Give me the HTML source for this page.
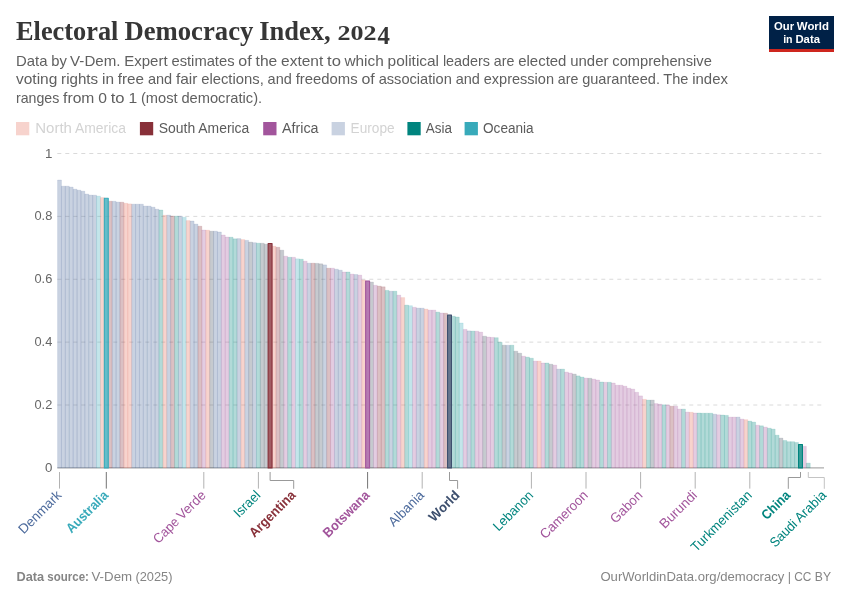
<!DOCTYPE html>
<html lang="en"><head><meta charset="utf-8"><title>Electoral Democracy Index, 2024</title>
<style>html,body{margin:0;padding:0;background:#fff}svg{display:block}</style></head><body>
<svg width="850" height="600" viewBox="0 0 850 600">
<rect width="850" height="600" fill="#fff"/>
<text y="40.1" font-family="'Liberation Serif', serif" font-size="26.7" font-weight="700" fill="#363636"><tspan x="16.00" textLength="102.45" lengthAdjust="spacingAndGlyphs">Electoral</tspan> <tspan x="124.41" textLength="128.94" lengthAdjust="spacingAndGlyphs">Democracy</tspan> <tspan x="259.30" textLength="71.33" lengthAdjust="spacingAndGlyphs">Index,</tspan> <tspan x="337.4" font-size="20.2" textLength="39.1" lengthAdjust="spacingAndGlyphs">202</tspan><tspan x="377.6" y="43.5" font-size="24.2" textLength="12.4" lengthAdjust="spacingAndGlyphs">4</tspan></text>
<text y="66.2" font-family="'Liberation Sans', sans-serif" font-size="15" fill="#606060"><tspan x="16.00" textLength="31.41" lengthAdjust="spacingAndGlyphs">Data</tspan> <tspan x="51.23" textLength="15.58" lengthAdjust="spacingAndGlyphs">by</tspan> <tspan x="70.11" textLength="50.38" lengthAdjust="spacingAndGlyphs">V-Dem.</tspan> <tspan x="124.31" textLength="43.31" lengthAdjust="spacingAndGlyphs">Expert</tspan> <tspan x="171.44" textLength="63.12" lengthAdjust="spacingAndGlyphs">estimates</tspan> <tspan x="238.39" textLength="13.33" lengthAdjust="spacingAndGlyphs">of</tspan> <tspan x="255.55" textLength="21.69" lengthAdjust="spacingAndGlyphs">the</tspan> <tspan x="281.06" textLength="42.20" lengthAdjust="spacingAndGlyphs">extent</tspan> <tspan x="327.09" textLength="13.86" lengthAdjust="spacingAndGlyphs">to</tspan> <tspan x="344.47" textLength="39.30" lengthAdjust="spacingAndGlyphs">which</tspan> <tspan x="387.59" textLength="51.47" lengthAdjust="spacingAndGlyphs">political</tspan> <tspan x="442.88" textLength="47.17" lengthAdjust="spacingAndGlyphs">leaders</tspan> <tspan x="493.86" textLength="20.55" lengthAdjust="spacingAndGlyphs">are</tspan> <tspan x="518.23" textLength="48.22" lengthAdjust="spacingAndGlyphs">elected</tspan> <tspan x="570.28" textLength="38.20" lengthAdjust="spacingAndGlyphs">under</tspan> <tspan x="612.31" textLength="99.56" lengthAdjust="spacingAndGlyphs">comprehensive</tspan></text>
<text y="84.4" font-family="'Liberation Sans', sans-serif" font-size="15" fill="#606060"><tspan x="16.00" textLength="41.31" lengthAdjust="spacingAndGlyphs">voting</tspan> <tspan x="61.14" textLength="37.02" lengthAdjust="spacingAndGlyphs">rights</tspan> <tspan x="101.98" textLength="11.98" lengthAdjust="spacingAndGlyphs">in</tspan> <tspan x="117.78" textLength="26.27" lengthAdjust="spacingAndGlyphs">free</tspan> <tspan x="147.88" textLength="24.25" lengthAdjust="spacingAndGlyphs">and</tspan> <tspan x="175.94" textLength="21.44" lengthAdjust="spacingAndGlyphs">fair</tspan> <tspan x="201.20" textLength="62.56" lengthAdjust="spacingAndGlyphs">elections,</tspan> <tspan x="267.59" textLength="24.23" lengthAdjust="spacingAndGlyphs">and</tspan> <tspan x="295.66" textLength="62.00" lengthAdjust="spacingAndGlyphs">freedoms</tspan> <tspan x="361.48" textLength="13.33" lengthAdjust="spacingAndGlyphs">of</tspan> <tspan x="378.64" textLength="73.20" lengthAdjust="spacingAndGlyphs">association</tspan> <tspan x="455.67" textLength="24.23" lengthAdjust="spacingAndGlyphs">and</tspan> <tspan x="483.73" textLength="70.25" lengthAdjust="spacingAndGlyphs">expression</tspan> <tspan x="557.81" textLength="20.55" lengthAdjust="spacingAndGlyphs">are</tspan> <tspan x="582.17" textLength="77.81" lengthAdjust="spacingAndGlyphs">guaranteed.</tspan> <tspan x="663.36" textLength="25.05" lengthAdjust="spacingAndGlyphs">The</tspan> <tspan x="692.22" textLength="35.69" lengthAdjust="spacingAndGlyphs">index</tspan></text>
<text y="102.6" font-family="'Liberation Sans', sans-serif" font-size="15" fill="#606060"><tspan x="16.00" textLength="43.27" lengthAdjust="spacingAndGlyphs">ranges</tspan> <tspan x="63.09" textLength="31.27" lengthAdjust="spacingAndGlyphs">from</tspan> <tspan x="98.19" textLength="8.72" lengthAdjust="spacingAndGlyphs">0</tspan> <tspan x="110.72" textLength="13.86" lengthAdjust="spacingAndGlyphs">to</tspan> <tspan x="128.41" textLength="8.72" lengthAdjust="spacingAndGlyphs">1</tspan> <tspan x="140.95" textLength="36.61" lengthAdjust="spacingAndGlyphs">(most</tspan> <tspan x="181.39" textLength="80.73" lengthAdjust="spacingAndGlyphs">democratic).</tspan></text>
<rect x="769" y="16" width="65" height="36" fill="#002147"/><rect x="769" y="49" width="65" height="3" fill="#ce261e"/>
<text y="30.2" font-family="'Liberation Sans', sans-serif" font-size="11" font-weight="700" fill="#fff"><tspan x="774.05" textLength="20.04" lengthAdjust="spacingAndGlyphs">Our</tspan> <tspan x="796.82" textLength="32.13" lengthAdjust="spacingAndGlyphs">World</tspan></text>
<text y="42.8" font-family="'Liberation Sans', sans-serif" font-size="11" font-weight="700" fill="#fff"><tspan x="783.18" textLength="9.45" lengthAdjust="spacingAndGlyphs">in</tspan> <tspan x="795.41" textLength="24.61" lengthAdjust="spacingAndGlyphs">Data</tspan></text>
<rect x="16" y="122" width="13.3" height="13.3" fill="#e56e5a" opacity="0.3"/>
<text y="132.9" font-family="'Liberation Sans', sans-serif" font-size="14" fill="#d3d3d3"><tspan x="35.20" textLength="36.71" lengthAdjust="spacingAndGlyphs">North</tspan> <tspan x="75.03" textLength="50.99" lengthAdjust="spacingAndGlyphs">America</tspan></text>
<rect x="139.9" y="122" width="13.3" height="13.3" fill="#883039"/>
<text y="132.9" font-family="'Liberation Sans', sans-serif" font-size="14" fill="#5b5b5b"><tspan x="158.70" textLength="36.50" lengthAdjust="spacingAndGlyphs">South</tspan> <tspan x="198.33" textLength="50.97" lengthAdjust="spacingAndGlyphs">America</tspan></text>
<rect x="263.2" y="122" width="13.3" height="13.3" fill="#a2559c"/>
<text x="282.00" y="132.9" font-family="'Liberation Sans', sans-serif" font-size="14" fill="#5b5b5b" textLength="36.55" lengthAdjust="spacingAndGlyphs">Africa</text>
<rect x="331.6" y="122" width="13.3" height="13.3" fill="#4c6a9c" opacity="0.3"/>
<text x="350.60" y="132.9" font-family="'Liberation Sans', sans-serif" font-size="14" fill="#d3d3d3" textLength="44.01" lengthAdjust="spacingAndGlyphs">Europe</text>
<rect x="407.4" y="122" width="13.3" height="13.3" fill="#00847e"/>
<text x="425.80" y="132.9" font-family="'Liberation Sans', sans-serif" font-size="14" fill="#5b5b5b" textLength="26.12" lengthAdjust="spacingAndGlyphs">Asia</text>
<rect x="464.6" y="122" width="13.3" height="13.3" fill="#38aaba"/>
<text x="483.00" y="132.9" font-family="'Liberation Sans', sans-serif" font-size="14" fill="#5b5b5b" textLength="50.66" lengthAdjust="spacingAndGlyphs">Oceania</text>
<line x1="57.3" x2="823.8" y1="153.50" y2="153.50" stroke="#dadada" stroke-width="1" stroke-dasharray="4,4"/>
<text x="44.90" y="157.6" font-family="'Liberation Sans', sans-serif" font-size="13" fill="#666" textLength="7.40" lengthAdjust="spacingAndGlyphs">1</text>
<line x1="57.3" x2="823.8" y1="216.38" y2="216.38" stroke="#dadada" stroke-width="1" stroke-dasharray="4,4"/>
<text x="34.51" y="220.47" font-family="'Liberation Sans', sans-serif" font-size="13" fill="#666" textLength="17.79" lengthAdjust="spacingAndGlyphs">0.8</text>
<line x1="57.3" x2="823.8" y1="279.25" y2="279.25" stroke="#dadada" stroke-width="1" stroke-dasharray="4,4"/>
<text x="34.51" y="283.35" font-family="'Liberation Sans', sans-serif" font-size="13" fill="#666" textLength="17.79" lengthAdjust="spacingAndGlyphs">0.6</text>
<line x1="57.3" x2="823.8" y1="342.12" y2="342.12" stroke="#dadada" stroke-width="1" stroke-dasharray="4,4"/>
<text x="34.51" y="346.23" font-family="'Liberation Sans', sans-serif" font-size="13" fill="#666" textLength="17.79" lengthAdjust="spacingAndGlyphs">0.4</text>
<line x1="57.3" x2="823.8" y1="405.00" y2="405.00" stroke="#dadada" stroke-width="1" stroke-dasharray="4,4"/>
<text x="34.51" y="409.1" font-family="'Liberation Sans', sans-serif" font-size="13" fill="#666" textLength="17.79" lengthAdjust="spacingAndGlyphs">0.2</text>
<text x="44.90" y="471.98" font-family="'Liberation Sans', sans-serif" font-size="13" fill="#666" textLength="7.40" lengthAdjust="spacingAndGlyphs">0</text>
<line x1="57.3" x2="824" y1="467.85" y2="467.85" stroke="#adadad" stroke-width="1.4"/>
<g stroke-linejoin="round">
<rect x="57.55" y="180.0" width="3.9" height="287.9" fill="#4c6a9c" fill-opacity="0.3" stroke="#4c6a9c" stroke-opacity="0.2" stroke-width="0.6"/>
<rect x="61.45" y="186.2" width="3.9" height="281.7" fill="#4c6a9c" fill-opacity="0.3" stroke="#4c6a9c" stroke-opacity="0.2" stroke-width="0.6"/>
<rect x="65.35" y="186.2" width="3.9" height="281.7" fill="#4c6a9c" fill-opacity="0.3" stroke="#4c6a9c" stroke-opacity="0.2" stroke-width="0.6"/>
<rect x="69.25" y="187.1" width="3.9" height="280.8" fill="#4c6a9c" fill-opacity="0.3" stroke="#4c6a9c" stroke-opacity="0.2" stroke-width="0.6"/>
<rect x="73.15" y="189.2" width="3.9" height="278.7" fill="#4c6a9c" fill-opacity="0.3" stroke="#4c6a9c" stroke-opacity="0.2" stroke-width="0.6"/>
<rect x="77.05" y="190.2" width="3.9" height="277.7" fill="#4c6a9c" fill-opacity="0.3" stroke="#4c6a9c" stroke-opacity="0.2" stroke-width="0.6"/>
<rect x="80.95" y="191.2" width="3.9" height="276.7" fill="#4c6a9c" fill-opacity="0.3" stroke="#4c6a9c" stroke-opacity="0.2" stroke-width="0.6"/>
<rect x="84.85" y="194.1" width="3.9" height="273.8" fill="#4c6a9c" fill-opacity="0.3" stroke="#4c6a9c" stroke-opacity="0.2" stroke-width="0.6"/>
<rect x="88.75" y="195.1" width="3.9" height="272.8" fill="#4c6a9c" fill-opacity="0.3" stroke="#4c6a9c" stroke-opacity="0.2" stroke-width="0.6"/>
<rect x="92.65" y="195.2" width="3.9" height="272.7" fill="#4c6a9c" fill-opacity="0.3" stroke="#4c6a9c" stroke-opacity="0.2" stroke-width="0.6"/>
<rect x="96.55" y="196.1" width="3.9" height="271.8" fill="#38aaba" fill-opacity="0.3" stroke="#38aaba" stroke-opacity="0.2" stroke-width="0.6"/>
<rect x="100.45" y="197.6" width="3.9" height="270.2" fill="#e56e5a" fill-opacity="0.3" stroke="#e56e5a" stroke-opacity="0.2" stroke-width="0.6"/>
<rect x="108.25" y="201.2" width="3.9" height="266.7" fill="#883039" fill-opacity="0.3" stroke="#883039" stroke-opacity="0.2" stroke-width="0.6"/>
<rect x="112.15" y="201.3" width="3.9" height="266.6" fill="#4c6a9c" fill-opacity="0.3" stroke="#4c6a9c" stroke-opacity="0.2" stroke-width="0.6"/>
<rect x="116.05" y="202.1" width="3.9" height="265.8" fill="#4c6a9c" fill-opacity="0.3" stroke="#4c6a9c" stroke-opacity="0.2" stroke-width="0.6"/>
<rect x="119.95" y="202.2" width="3.9" height="265.7" fill="#883039" fill-opacity="0.3" stroke="#883039" stroke-opacity="0.2" stroke-width="0.6"/>
<rect x="123.85" y="203.3" width="3.9" height="264.6" fill="#e56e5a" fill-opacity="0.3" stroke="#e56e5a" stroke-opacity="0.2" stroke-width="0.6"/>
<rect x="127.75" y="203.9" width="3.9" height="264.0" fill="#e56e5a" fill-opacity="0.3" stroke="#e56e5a" stroke-opacity="0.2" stroke-width="0.6"/>
<rect x="131.65" y="204.2" width="3.9" height="263.7" fill="#4c6a9c" fill-opacity="0.3" stroke="#4c6a9c" stroke-opacity="0.2" stroke-width="0.6"/>
<rect x="135.55" y="204.2" width="3.9" height="263.7" fill="#4c6a9c" fill-opacity="0.3" stroke="#4c6a9c" stroke-opacity="0.2" stroke-width="0.6"/>
<rect x="139.45" y="204.2" width="3.9" height="263.7" fill="#4c6a9c" fill-opacity="0.3" stroke="#4c6a9c" stroke-opacity="0.2" stroke-width="0.6"/>
<rect x="143.35" y="206.1" width="3.9" height="261.8" fill="#4c6a9c" fill-opacity="0.3" stroke="#4c6a9c" stroke-opacity="0.2" stroke-width="0.6"/>
<rect x="147.25" y="206.1" width="3.9" height="261.8" fill="#4c6a9c" fill-opacity="0.3" stroke="#4c6a9c" stroke-opacity="0.2" stroke-width="0.6"/>
<rect x="151.15" y="207.2" width="3.9" height="260.7" fill="#4c6a9c" fill-opacity="0.3" stroke="#4c6a9c" stroke-opacity="0.2" stroke-width="0.6"/>
<rect x="155.05" y="209.2" width="3.9" height="258.7" fill="#4c6a9c" fill-opacity="0.3" stroke="#4c6a9c" stroke-opacity="0.2" stroke-width="0.6"/>
<rect x="158.95" y="210.0" width="3.9" height="257.9" fill="#00847e" fill-opacity="0.3" stroke="#00847e" stroke-opacity="0.2" stroke-width="0.6"/>
<rect x="162.85" y="215.3" width="3.9" height="252.6" fill="#e56e5a" fill-opacity="0.3" stroke="#e56e5a" stroke-opacity="0.2" stroke-width="0.6"/>
<rect x="166.75" y="215.1" width="3.9" height="252.8" fill="#4c6a9c" fill-opacity="0.3" stroke="#4c6a9c" stroke-opacity="0.2" stroke-width="0.6"/>
<rect x="170.65" y="216.0" width="3.9" height="251.9" fill="#883039" fill-opacity="0.3" stroke="#883039" stroke-opacity="0.2" stroke-width="0.6"/>
<rect x="174.55" y="216.1" width="3.9" height="251.8" fill="#00847e" fill-opacity="0.3" stroke="#00847e" stroke-opacity="0.2" stroke-width="0.6"/>
<rect x="178.45" y="216.1" width="3.9" height="251.8" fill="#4c6a9c" fill-opacity="0.3" stroke="#4c6a9c" stroke-opacity="0.2" stroke-width="0.6"/>
<rect x="182.35" y="217.3" width="3.9" height="250.6" fill="#38aaba" fill-opacity="0.3" stroke="#38aaba" stroke-opacity="0.2" stroke-width="0.6"/>
<rect x="186.25" y="220.6" width="3.9" height="247.3" fill="#e56e5a" fill-opacity="0.3" stroke="#e56e5a" stroke-opacity="0.2" stroke-width="0.6"/>
<rect x="190.15" y="221.0" width="3.9" height="246.9" fill="#4c6a9c" fill-opacity="0.3" stroke="#4c6a9c" stroke-opacity="0.2" stroke-width="0.6"/>
<rect x="194.05" y="224.1" width="3.9" height="243.8" fill="#4c6a9c" fill-opacity="0.3" stroke="#4c6a9c" stroke-opacity="0.2" stroke-width="0.6"/>
<rect x="197.95" y="226.2" width="3.9" height="241.7" fill="#883039" fill-opacity="0.3" stroke="#883039" stroke-opacity="0.2" stroke-width="0.6"/>
<rect x="201.85" y="230.0" width="3.9" height="237.9" fill="#a2559c" fill-opacity="0.3" stroke="#a2559c" stroke-opacity="0.2" stroke-width="0.6"/>
<rect x="205.75" y="230.2" width="3.9" height="237.7" fill="#e56e5a" fill-opacity="0.3" stroke="#e56e5a" stroke-opacity="0.2" stroke-width="0.6"/>
<rect x="209.65" y="231.2" width="3.9" height="236.7" fill="#434e60" fill-opacity="0.3" stroke="#434e60" stroke-opacity="0.2" stroke-width="0.6"/>
<rect x="213.55" y="231.2" width="3.9" height="236.7" fill="#4c6a9c" fill-opacity="0.3" stroke="#4c6a9c" stroke-opacity="0.2" stroke-width="0.6"/>
<rect x="217.45" y="232.0" width="3.9" height="235.9" fill="#4c6a9c" fill-opacity="0.3" stroke="#4c6a9c" stroke-opacity="0.2" stroke-width="0.6"/>
<rect x="221.35" y="235.0" width="3.9" height="232.9" fill="#a2559c" fill-opacity="0.3" stroke="#a2559c" stroke-opacity="0.2" stroke-width="0.6"/>
<rect x="225.25" y="237.0" width="3.9" height="230.9" fill="#a2559c" fill-opacity="0.3" stroke="#a2559c" stroke-opacity="0.2" stroke-width="0.6"/>
<rect x="229.15" y="237.2" width="3.9" height="230.7" fill="#00847e" fill-opacity="0.3" stroke="#00847e" stroke-opacity="0.2" stroke-width="0.6"/>
<rect x="233.05" y="238.8" width="3.9" height="229.1" fill="#00847e" fill-opacity="0.3" stroke="#00847e" stroke-opacity="0.2" stroke-width="0.6"/>
<rect x="236.95" y="238.6" width="3.9" height="229.3" fill="#4c6a9c" fill-opacity="0.3" stroke="#4c6a9c" stroke-opacity="0.2" stroke-width="0.6"/>
<rect x="240.85" y="239.6" width="3.9" height="228.3" fill="#e56e5a" fill-opacity="0.3" stroke="#e56e5a" stroke-opacity="0.2" stroke-width="0.6"/>
<rect x="244.75" y="240.4" width="3.9" height="227.5" fill="#4c6a9c" fill-opacity="0.3" stroke="#4c6a9c" stroke-opacity="0.2" stroke-width="0.6"/>
<rect x="248.65" y="242.1" width="3.9" height="225.8" fill="#434e60" fill-opacity="0.3" stroke="#434e60" stroke-opacity="0.2" stroke-width="0.6"/>
<rect x="252.55" y="242.7" width="3.9" height="225.2" fill="#4c6a9c" fill-opacity="0.3" stroke="#4c6a9c" stroke-opacity="0.2" stroke-width="0.6"/>
<rect x="256.45" y="243.2" width="3.9" height="224.7" fill="#00847e" fill-opacity="0.3" stroke="#00847e" stroke-opacity="0.2" stroke-width="0.6"/>
<rect x="260.35" y="243.3" width="3.9" height="224.6" fill="#434e60" fill-opacity="0.3" stroke="#434e60" stroke-opacity="0.2" stroke-width="0.6"/>
<rect x="264.25" y="244.2" width="3.9" height="223.7" fill="#434e60" fill-opacity="0.3" stroke="#434e60" stroke-opacity="0.2" stroke-width="0.6"/>
<rect x="272.05" y="246.2" width="3.9" height="221.7" fill="#e56e5a" fill-opacity="0.3" stroke="#e56e5a" stroke-opacity="0.2" stroke-width="0.6"/>
<rect x="275.95" y="247.3" width="3.9" height="220.6" fill="#883039" fill-opacity="0.3" stroke="#883039" stroke-opacity="0.2" stroke-width="0.6"/>
<rect x="279.85" y="250.2" width="3.9" height="217.7" fill="#434e60" fill-opacity="0.3" stroke="#434e60" stroke-opacity="0.2" stroke-width="0.6"/>
<rect x="283.75" y="256.2" width="3.9" height="211.7" fill="#a2559c" fill-opacity="0.3" stroke="#a2559c" stroke-opacity="0.2" stroke-width="0.6"/>
<rect x="287.65" y="257.3" width="3.9" height="210.6" fill="#00847e" fill-opacity="0.3" stroke="#00847e" stroke-opacity="0.2" stroke-width="0.6"/>
<rect x="291.55" y="257.3" width="3.9" height="210.6" fill="#a2559c" fill-opacity="0.3" stroke="#a2559c" stroke-opacity="0.2" stroke-width="0.6"/>
<rect x="295.45" y="258.8" width="3.9" height="209.1" fill="#38aaba" fill-opacity="0.3" stroke="#38aaba" stroke-opacity="0.2" stroke-width="0.6"/>
<rect x="299.35" y="259.2" width="3.9" height="208.7" fill="#00847e" fill-opacity="0.3" stroke="#00847e" stroke-opacity="0.2" stroke-width="0.6"/>
<rect x="303.25" y="261.2" width="3.9" height="206.7" fill="#a2559c" fill-opacity="0.3" stroke="#a2559c" stroke-opacity="0.2" stroke-width="0.6"/>
<rect x="307.15" y="263.2" width="3.9" height="204.7" fill="#4c6a9c" fill-opacity="0.3" stroke="#4c6a9c" stroke-opacity="0.2" stroke-width="0.6"/>
<rect x="311.05" y="263.2" width="3.9" height="204.7" fill="#883039" fill-opacity="0.3" stroke="#883039" stroke-opacity="0.2" stroke-width="0.6"/>
<rect x="314.95" y="263.4" width="3.9" height="204.5" fill="#434e60" fill-opacity="0.3" stroke="#434e60" stroke-opacity="0.2" stroke-width="0.6"/>
<rect x="318.85" y="263.8" width="3.9" height="204.1" fill="#434e60" fill-opacity="0.3" stroke="#434e60" stroke-opacity="0.2" stroke-width="0.6"/>
<rect x="322.75" y="264.9" width="3.9" height="203.0" fill="#4c6a9c" fill-opacity="0.3" stroke="#4c6a9c" stroke-opacity="0.2" stroke-width="0.6"/>
<rect x="326.65" y="268.2" width="3.9" height="199.7" fill="#883039" fill-opacity="0.3" stroke="#883039" stroke-opacity="0.2" stroke-width="0.6"/>
<rect x="330.55" y="268.2" width="3.9" height="199.7" fill="#a2559c" fill-opacity="0.3" stroke="#a2559c" stroke-opacity="0.2" stroke-width="0.6"/>
<rect x="334.45" y="269.2" width="3.9" height="198.7" fill="#4c6a9c" fill-opacity="0.3" stroke="#4c6a9c" stroke-opacity="0.2" stroke-width="0.6"/>
<rect x="338.35" y="270.2" width="3.9" height="197.7" fill="#4c6a9c" fill-opacity="0.3" stroke="#4c6a9c" stroke-opacity="0.2" stroke-width="0.6"/>
<rect x="342.25" y="272.0" width="3.9" height="195.9" fill="#a2559c" fill-opacity="0.3" stroke="#a2559c" stroke-opacity="0.2" stroke-width="0.6"/>
<rect x="346.15" y="272.0" width="3.9" height="195.9" fill="#00847e" fill-opacity="0.3" stroke="#00847e" stroke-opacity="0.2" stroke-width="0.6"/>
<rect x="350.05" y="274.1" width="3.9" height="193.8" fill="#a2559c" fill-opacity="0.3" stroke="#a2559c" stroke-opacity="0.2" stroke-width="0.6"/>
<rect x="353.95" y="274.5" width="3.9" height="193.4" fill="#4c6a9c" fill-opacity="0.3" stroke="#4c6a9c" stroke-opacity="0.2" stroke-width="0.6"/>
<rect x="357.85" y="275.1" width="3.9" height="192.8" fill="#a2559c" fill-opacity="0.3" stroke="#a2559c" stroke-opacity="0.2" stroke-width="0.6"/>
<rect x="361.75" y="280.0" width="3.9" height="187.9" fill="#e56e5a" fill-opacity="0.3" stroke="#e56e5a" stroke-opacity="0.2" stroke-width="0.6"/>
<rect x="369.55" y="282.1" width="3.9" height="185.8" fill="#434e60" fill-opacity="0.3" stroke="#434e60" stroke-opacity="0.2" stroke-width="0.6"/>
<rect x="373.45" y="285.3" width="3.9" height="182.6" fill="#a2559c" fill-opacity="0.3" stroke="#a2559c" stroke-opacity="0.2" stroke-width="0.6"/>
<rect x="377.35" y="286.1" width="3.9" height="181.8" fill="#883039" fill-opacity="0.3" stroke="#883039" stroke-opacity="0.2" stroke-width="0.6"/>
<rect x="381.25" y="286.8" width="3.9" height="181.1" fill="#883039" fill-opacity="0.3" stroke="#883039" stroke-opacity="0.2" stroke-width="0.6"/>
<rect x="385.15" y="290.4" width="3.9" height="177.5" fill="#00847e" fill-opacity="0.3" stroke="#00847e" stroke-opacity="0.2" stroke-width="0.6"/>
<rect x="389.05" y="291.2" width="3.9" height="176.7" fill="#4c6a9c" fill-opacity="0.3" stroke="#4c6a9c" stroke-opacity="0.2" stroke-width="0.6"/>
<rect x="392.95" y="291.2" width="3.9" height="176.7" fill="#00847e" fill-opacity="0.3" stroke="#00847e" stroke-opacity="0.2" stroke-width="0.6"/>
<rect x="396.85" y="295.1" width="3.9" height="172.8" fill="#a2559c" fill-opacity="0.3" stroke="#a2559c" stroke-opacity="0.2" stroke-width="0.6"/>
<rect x="400.75" y="297.6" width="3.9" height="170.2" fill="#e56e5a" fill-opacity="0.3" stroke="#e56e5a" stroke-opacity="0.2" stroke-width="0.6"/>
<rect x="404.65" y="305.1" width="3.9" height="162.8" fill="#00847e" fill-opacity="0.3" stroke="#00847e" stroke-opacity="0.2" stroke-width="0.6"/>
<rect x="408.55" y="305.7" width="3.9" height="162.2" fill="#38aaba" fill-opacity="0.3" stroke="#38aaba" stroke-opacity="0.2" stroke-width="0.6"/>
<rect x="412.45" y="307.3" width="3.9" height="160.6" fill="#a2559c" fill-opacity="0.3" stroke="#a2559c" stroke-opacity="0.2" stroke-width="0.6"/>
<rect x="416.35" y="308.1" width="3.9" height="159.8" fill="#4c6a9c" fill-opacity="0.3" stroke="#4c6a9c" stroke-opacity="0.2" stroke-width="0.6"/>
<rect x="420.25" y="308.2" width="3.9" height="159.7" fill="#4c6a9c" fill-opacity="0.3" stroke="#4c6a9c" stroke-opacity="0.2" stroke-width="0.6"/>
<rect x="424.15" y="309.1" width="3.9" height="158.8" fill="#e56e5a" fill-opacity="0.3" stroke="#e56e5a" stroke-opacity="0.2" stroke-width="0.6"/>
<rect x="428.05" y="310.1" width="3.9" height="157.8" fill="#a2559c" fill-opacity="0.3" stroke="#a2559c" stroke-opacity="0.2" stroke-width="0.6"/>
<rect x="431.95" y="310.1" width="3.9" height="157.8" fill="#a2559c" fill-opacity="0.3" stroke="#a2559c" stroke-opacity="0.2" stroke-width="0.6"/>
<rect x="435.85" y="312.1" width="3.9" height="155.8" fill="#00847e" fill-opacity="0.3" stroke="#00847e" stroke-opacity="0.2" stroke-width="0.6"/>
<rect x="439.75" y="313.0" width="3.9" height="154.9" fill="#a2559c" fill-opacity="0.3" stroke="#a2559c" stroke-opacity="0.2" stroke-width="0.6"/>
<rect x="443.65" y="313.2" width="3.9" height="154.7" fill="#883039" fill-opacity="0.3" stroke="#883039" stroke-opacity="0.2" stroke-width="0.6"/>
<rect x="451.45" y="316.2" width="3.9" height="151.7" fill="#00847e" fill-opacity="0.3" stroke="#00847e" stroke-opacity="0.2" stroke-width="0.6"/>
<rect x="455.35" y="317.0" width="3.9" height="150.9" fill="#00847e" fill-opacity="0.3" stroke="#00847e" stroke-opacity="0.2" stroke-width="0.6"/>
<rect x="459.25" y="323.0" width="3.9" height="144.9" fill="#38aaba" fill-opacity="0.3" stroke="#38aaba" stroke-opacity="0.2" stroke-width="0.6"/>
<rect x="463.15" y="329.4" width="3.9" height="138.5" fill="#a2559c" fill-opacity="0.3" stroke="#a2559c" stroke-opacity="0.2" stroke-width="0.6"/>
<rect x="467.05" y="330.9" width="3.9" height="137.0" fill="#4c6a9c" fill-opacity="0.3" stroke="#4c6a9c" stroke-opacity="0.2" stroke-width="0.6"/>
<rect x="470.95" y="331.1" width="3.9" height="136.8" fill="#00847e" fill-opacity="0.3" stroke="#00847e" stroke-opacity="0.2" stroke-width="0.6"/>
<rect x="474.85" y="331.2" width="3.9" height="136.7" fill="#a2559c" fill-opacity="0.3" stroke="#a2559c" stroke-opacity="0.2" stroke-width="0.6"/>
<rect x="478.75" y="332.1" width="3.9" height="135.8" fill="#a2559c" fill-opacity="0.3" stroke="#a2559c" stroke-opacity="0.2" stroke-width="0.6"/>
<rect x="482.65" y="336.2" width="3.9" height="131.7" fill="#434e60" fill-opacity="0.3" stroke="#434e60" stroke-opacity="0.2" stroke-width="0.6"/>
<rect x="486.55" y="337.0" width="3.9" height="130.9" fill="#a2559c" fill-opacity="0.3" stroke="#a2559c" stroke-opacity="0.2" stroke-width="0.6"/>
<rect x="490.45" y="337.4" width="3.9" height="130.5" fill="#a2559c" fill-opacity="0.3" stroke="#a2559c" stroke-opacity="0.2" stroke-width="0.6"/>
<rect x="494.35" y="337.7" width="3.9" height="130.2" fill="#00847e" fill-opacity="0.3" stroke="#00847e" stroke-opacity="0.2" stroke-width="0.6"/>
<rect x="498.25" y="342.3" width="3.9" height="125.6" fill="#00847e" fill-opacity="0.3" stroke="#00847e" stroke-opacity="0.2" stroke-width="0.6"/>
<rect x="502.15" y="345.2" width="3.9" height="122.7" fill="#434e60" fill-opacity="0.3" stroke="#434e60" stroke-opacity="0.2" stroke-width="0.6"/>
<rect x="506.05" y="345.3" width="3.9" height="122.6" fill="#4c6a9c" fill-opacity="0.3" stroke="#4c6a9c" stroke-opacity="0.2" stroke-width="0.6"/>
<rect x="509.95" y="345.2" width="3.9" height="122.7" fill="#00847e" fill-opacity="0.3" stroke="#00847e" stroke-opacity="0.2" stroke-width="0.6"/>
<rect x="513.85" y="351.2" width="3.9" height="116.7" fill="#434e60" fill-opacity="0.3" stroke="#434e60" stroke-opacity="0.2" stroke-width="0.6"/>
<rect x="517.75" y="353.2" width="3.9" height="114.7" fill="#434e60" fill-opacity="0.3" stroke="#434e60" stroke-opacity="0.2" stroke-width="0.6"/>
<rect x="521.65" y="356.2" width="3.9" height="111.7" fill="#a2559c" fill-opacity="0.3" stroke="#a2559c" stroke-opacity="0.2" stroke-width="0.6"/>
<rect x="525.55" y="357.1" width="3.9" height="110.8" fill="#00847e" fill-opacity="0.3" stroke="#00847e" stroke-opacity="0.2" stroke-width="0.6"/>
<rect x="529.45" y="358.2" width="3.9" height="109.7" fill="#00847e" fill-opacity="0.3" stroke="#00847e" stroke-opacity="0.2" stroke-width="0.6"/>
<rect x="533.35" y="361.1" width="3.9" height="106.8" fill="#a2559c" fill-opacity="0.3" stroke="#a2559c" stroke-opacity="0.2" stroke-width="0.6"/>
<rect x="537.25" y="361.1" width="3.9" height="106.8" fill="#e56e5a" fill-opacity="0.3" stroke="#e56e5a" stroke-opacity="0.2" stroke-width="0.6"/>
<rect x="541.15" y="363.0" width="3.9" height="104.9" fill="#a2559c" fill-opacity="0.3" stroke="#a2559c" stroke-opacity="0.2" stroke-width="0.6"/>
<rect x="545.05" y="363.0" width="3.9" height="104.9" fill="#00847e" fill-opacity="0.3" stroke="#00847e" stroke-opacity="0.2" stroke-width="0.6"/>
<rect x="548.95" y="364.2" width="3.9" height="103.7" fill="#434e60" fill-opacity="0.3" stroke="#434e60" stroke-opacity="0.2" stroke-width="0.6"/>
<rect x="552.85" y="365.1" width="3.9" height="102.8" fill="#a2559c" fill-opacity="0.3" stroke="#a2559c" stroke-opacity="0.2" stroke-width="0.6"/>
<rect x="556.75" y="369.1" width="3.9" height="98.8" fill="#4c6a9c" fill-opacity="0.3" stroke="#4c6a9c" stroke-opacity="0.2" stroke-width="0.6"/>
<rect x="560.65" y="369.1" width="3.9" height="98.8" fill="#00847e" fill-opacity="0.3" stroke="#00847e" stroke-opacity="0.2" stroke-width="0.6"/>
<rect x="564.55" y="372.1" width="3.9" height="95.8" fill="#a2559c" fill-opacity="0.3" stroke="#a2559c" stroke-opacity="0.2" stroke-width="0.6"/>
<rect x="568.45" y="373.0" width="3.9" height="94.9" fill="#a2559c" fill-opacity="0.3" stroke="#a2559c" stroke-opacity="0.2" stroke-width="0.6"/>
<rect x="572.35" y="374.1" width="3.9" height="93.8" fill="#434e60" fill-opacity="0.3" stroke="#434e60" stroke-opacity="0.2" stroke-width="0.6"/>
<rect x="576.25" y="375.9" width="3.9" height="92.0" fill="#00847e" fill-opacity="0.3" stroke="#00847e" stroke-opacity="0.2" stroke-width="0.6"/>
<rect x="580.15" y="377.1" width="3.9" height="90.8" fill="#00847e" fill-opacity="0.3" stroke="#00847e" stroke-opacity="0.2" stroke-width="0.6"/>
<rect x="584.05" y="378.1" width="3.9" height="89.8" fill="#a2559c" fill-opacity="0.3" stroke="#a2559c" stroke-opacity="0.2" stroke-width="0.6"/>
<rect x="587.95" y="378.3" width="3.9" height="89.6" fill="#434e60" fill-opacity="0.3" stroke="#434e60" stroke-opacity="0.2" stroke-width="0.6"/>
<rect x="591.85" y="379.1" width="3.9" height="88.8" fill="#a2559c" fill-opacity="0.3" stroke="#a2559c" stroke-opacity="0.2" stroke-width="0.6"/>
<rect x="595.75" y="380.0" width="3.9" height="87.9" fill="#a2559c" fill-opacity="0.3" stroke="#a2559c" stroke-opacity="0.2" stroke-width="0.6"/>
<rect x="599.65" y="382.0" width="3.9" height="85.9" fill="#00847e" fill-opacity="0.3" stroke="#00847e" stroke-opacity="0.2" stroke-width="0.6"/>
<rect x="603.55" y="382.3" width="3.9" height="85.6" fill="#a2559c" fill-opacity="0.3" stroke="#a2559c" stroke-opacity="0.2" stroke-width="0.6"/>
<rect x="607.45" y="382.3" width="3.9" height="85.6" fill="#00847e" fill-opacity="0.3" stroke="#00847e" stroke-opacity="0.2" stroke-width="0.6"/>
<rect x="611.35" y="383.0" width="3.9" height="84.9" fill="#a2559c" fill-opacity="0.3" stroke="#a2559c" stroke-opacity="0.2" stroke-width="0.6"/>
<rect x="615.25" y="385.2" width="3.9" height="82.7" fill="#a2559c" fill-opacity="0.3" stroke="#a2559c" stroke-opacity="0.2" stroke-width="0.6"/>
<rect x="619.15" y="385.2" width="3.9" height="82.7" fill="#a2559c" fill-opacity="0.3" stroke="#a2559c" stroke-opacity="0.2" stroke-width="0.6"/>
<rect x="623.05" y="386.2" width="3.9" height="81.7" fill="#a2559c" fill-opacity="0.3" stroke="#a2559c" stroke-opacity="0.2" stroke-width="0.6"/>
<rect x="626.95" y="388.2" width="3.9" height="79.7" fill="#a2559c" fill-opacity="0.3" stroke="#a2559c" stroke-opacity="0.2" stroke-width="0.6"/>
<rect x="630.85" y="389.1" width="3.9" height="78.8" fill="#a2559c" fill-opacity="0.3" stroke="#a2559c" stroke-opacity="0.2" stroke-width="0.6"/>
<rect x="634.75" y="392.3" width="3.9" height="75.6" fill="#a2559c" fill-opacity="0.3" stroke="#a2559c" stroke-opacity="0.2" stroke-width="0.6"/>
<rect x="638.65" y="395.9" width="3.9" height="72.0" fill="#a2559c" fill-opacity="0.3" stroke="#a2559c" stroke-opacity="0.2" stroke-width="0.6"/>
<rect x="642.55" y="399.4" width="3.9" height="68.5" fill="#e56e5a" fill-opacity="0.3" stroke="#e56e5a" stroke-opacity="0.2" stroke-width="0.6"/>
<rect x="646.45" y="400.1" width="3.9" height="67.8" fill="#00847e" fill-opacity="0.3" stroke="#00847e" stroke-opacity="0.2" stroke-width="0.6"/>
<rect x="650.35" y="400.1" width="3.9" height="67.8" fill="#434e60" fill-opacity="0.3" stroke="#434e60" stroke-opacity="0.2" stroke-width="0.6"/>
<rect x="654.25" y="403.6" width="3.9" height="64.2" fill="#a2559c" fill-opacity="0.3" stroke="#a2559c" stroke-opacity="0.2" stroke-width="0.6"/>
<rect x="658.15" y="404.2" width="3.9" height="63.7" fill="#a2559c" fill-opacity="0.3" stroke="#a2559c" stroke-opacity="0.2" stroke-width="0.6"/>
<rect x="662.05" y="404.8" width="3.9" height="63.1" fill="#00847e" fill-opacity="0.3" stroke="#00847e" stroke-opacity="0.2" stroke-width="0.6"/>
<rect x="665.95" y="405.0" width="3.9" height="62.9" fill="#a2559c" fill-opacity="0.3" stroke="#a2559c" stroke-opacity="0.2" stroke-width="0.6"/>
<rect x="669.85" y="406.2" width="3.9" height="61.7" fill="#883039" fill-opacity="0.3" stroke="#883039" stroke-opacity="0.2" stroke-width="0.6"/>
<rect x="673.75" y="406.2" width="3.9" height="61.7" fill="#a2559c" fill-opacity="0.3" stroke="#a2559c" stroke-opacity="0.2" stroke-width="0.6"/>
<rect x="677.65" y="409.1" width="3.9" height="58.8" fill="#a2559c" fill-opacity="0.3" stroke="#a2559c" stroke-opacity="0.2" stroke-width="0.6"/>
<rect x="681.55" y="409.1" width="3.9" height="58.8" fill="#00847e" fill-opacity="0.3" stroke="#00847e" stroke-opacity="0.2" stroke-width="0.6"/>
<rect x="685.45" y="412.1" width="3.9" height="55.8" fill="#a2559c" fill-opacity="0.3" stroke="#a2559c" stroke-opacity="0.2" stroke-width="0.6"/>
<rect x="689.35" y="412.3" width="3.9" height="55.6" fill="#e56e5a" fill-opacity="0.3" stroke="#e56e5a" stroke-opacity="0.2" stroke-width="0.6"/>
<rect x="693.25" y="413.0" width="3.9" height="54.9" fill="#a2559c" fill-opacity="0.3" stroke="#a2559c" stroke-opacity="0.2" stroke-width="0.6"/>
<rect x="697.15" y="413.0" width="3.9" height="54.9" fill="#00847e" fill-opacity="0.3" stroke="#00847e" stroke-opacity="0.2" stroke-width="0.6"/>
<rect x="701.05" y="413.2" width="3.9" height="54.7" fill="#00847e" fill-opacity="0.3" stroke="#00847e" stroke-opacity="0.2" stroke-width="0.6"/>
<rect x="704.95" y="413.2" width="3.9" height="54.7" fill="#00847e" fill-opacity="0.3" stroke="#00847e" stroke-opacity="0.2" stroke-width="0.6"/>
<rect x="708.85" y="413.2" width="3.9" height="54.7" fill="#00847e" fill-opacity="0.3" stroke="#00847e" stroke-opacity="0.2" stroke-width="0.6"/>
<rect x="712.75" y="414.2" width="3.9" height="53.7" fill="#4c6a9c" fill-opacity="0.3" stroke="#4c6a9c" stroke-opacity="0.2" stroke-width="0.6"/>
<rect x="716.65" y="414.8" width="3.9" height="53.1" fill="#a2559c" fill-opacity="0.3" stroke="#a2559c" stroke-opacity="0.2" stroke-width="0.6"/>
<rect x="720.55" y="415.0" width="3.9" height="52.9" fill="#00847e" fill-opacity="0.3" stroke="#00847e" stroke-opacity="0.2" stroke-width="0.6"/>
<rect x="724.45" y="415.4" width="3.9" height="52.5" fill="#00847e" fill-opacity="0.3" stroke="#00847e" stroke-opacity="0.2" stroke-width="0.6"/>
<rect x="728.35" y="417.1" width="3.9" height="50.8" fill="#a2559c" fill-opacity="0.3" stroke="#a2559c" stroke-opacity="0.2" stroke-width="0.6"/>
<rect x="732.25" y="417.1" width="3.9" height="50.8" fill="#a2559c" fill-opacity="0.3" stroke="#a2559c" stroke-opacity="0.2" stroke-width="0.6"/>
<rect x="736.15" y="417.1" width="3.9" height="50.8" fill="#4c6a9c" fill-opacity="0.3" stroke="#4c6a9c" stroke-opacity="0.2" stroke-width="0.6"/>
<rect x="740.05" y="419.1" width="3.9" height="48.8" fill="#a2559c" fill-opacity="0.3" stroke="#a2559c" stroke-opacity="0.2" stroke-width="0.6"/>
<rect x="743.95" y="419.7" width="3.9" height="48.2" fill="#e56e5a" fill-opacity="0.3" stroke="#e56e5a" stroke-opacity="0.2" stroke-width="0.6"/>
<rect x="747.85" y="421.1" width="3.9" height="46.8" fill="#00847e" fill-opacity="0.3" stroke="#00847e" stroke-opacity="0.2" stroke-width="0.6"/>
<rect x="751.75" y="422.1" width="3.9" height="45.8" fill="#00847e" fill-opacity="0.3" stroke="#00847e" stroke-opacity="0.2" stroke-width="0.6"/>
<rect x="755.65" y="425.2" width="3.9" height="42.7" fill="#a2559c" fill-opacity="0.3" stroke="#a2559c" stroke-opacity="0.2" stroke-width="0.6"/>
<rect x="759.55" y="425.8" width="3.9" height="42.1" fill="#00847e" fill-opacity="0.3" stroke="#00847e" stroke-opacity="0.2" stroke-width="0.6"/>
<rect x="763.45" y="427.1" width="3.9" height="40.8" fill="#a2559c" fill-opacity="0.3" stroke="#a2559c" stroke-opacity="0.2" stroke-width="0.6"/>
<rect x="767.35" y="428.2" width="3.9" height="39.7" fill="#00847e" fill-opacity="0.3" stroke="#00847e" stroke-opacity="0.2" stroke-width="0.6"/>
<rect x="771.25" y="429.1" width="3.9" height="38.8" fill="#00847e" fill-opacity="0.3" stroke="#00847e" stroke-opacity="0.2" stroke-width="0.6"/>
<rect x="775.15" y="435.2" width="3.9" height="32.7" fill="#00847e" fill-opacity="0.3" stroke="#00847e" stroke-opacity="0.2" stroke-width="0.6"/>
<rect x="779.05" y="438.1" width="3.9" height="29.8" fill="#434e60" fill-opacity="0.3" stroke="#434e60" stroke-opacity="0.2" stroke-width="0.6"/>
<rect x="782.95" y="440.5" width="3.9" height="27.4" fill="#00847e" fill-opacity="0.3" stroke="#00847e" stroke-opacity="0.2" stroke-width="0.6"/>
<rect x="786.85" y="441.7" width="3.9" height="26.2" fill="#00847e" fill-opacity="0.3" stroke="#00847e" stroke-opacity="0.2" stroke-width="0.6"/>
<rect x="790.75" y="441.7" width="3.9" height="26.2" fill="#00847e" fill-opacity="0.3" stroke="#00847e" stroke-opacity="0.2" stroke-width="0.6"/>
<rect x="794.65" y="442.5" width="3.9" height="25.4" fill="#00847e" fill-opacity="0.3" stroke="#00847e" stroke-opacity="0.2" stroke-width="0.6"/>
<rect x="802.45" y="446.3" width="3.9" height="21.6" fill="#a2559c" fill-opacity="0.3" stroke="#a2559c" stroke-opacity="0.2" stroke-width="0.6"/>
<rect x="806.35" y="463.1" width="3.9" height="4.8" fill="#00847e" fill-opacity="0.3" stroke="#00847e" stroke-opacity="0.2" stroke-width="0.6"/>
<rect x="104.35" y="198.2" width="3.9" height="269.7" fill="#38aaba" fill-opacity="0.78" stroke="#38aaba" stroke-width="1.1"/>
<rect x="268.15" y="243.5" width="3.9" height="224.4" fill="#883039" fill-opacity="0.78" stroke="#883039" stroke-width="1.1"/>
<rect x="365.65" y="281.0" width="3.9" height="186.9" fill="#a2559c" fill-opacity="0.78" stroke="#a2559c" stroke-width="1.1"/>
<rect x="447.55" y="315.0" width="3.9" height="152.9" fill="#3d4f6e" fill-opacity="0.78" stroke="#3d4f6e" stroke-width="1.1"/>
<rect x="798.55" y="444.5" width="3.9" height="23.4" fill="#00847e" fill-opacity="0.78" stroke="#00847e" stroke-width="1.1"/>
</g>
<line x1="59.50" x2="59.50" y1="472" y2="488.6" stroke="#b2b2b2" stroke-width="1"/>
<text x="7.88" y="496.1" font-family="'Liberation Sans', sans-serif" font-size="13.5" fill="#4c6a9c" textLength="54.42" lengthAdjust="spacingAndGlyphs" transform="rotate(-45 62.30 496.10)">Denmark</text>
<line x1="106.30" x2="106.30" y1="472" y2="488.6" stroke="#747474" stroke-width="1"/>
<text x="55.87" y="496.1" font-family="'Liberation Sans', sans-serif" font-size="13.5" font-weight="700" fill="#38aaba" textLength="53.23" lengthAdjust="spacingAndGlyphs" transform="rotate(-45 109.10 496.10)">Australia</text>
<line x1="203.80" x2="203.80" y1="472" y2="488.6" stroke="#b2b2b2" stroke-width="1"/>
<text y="496.1" font-family="'Liberation Sans', sans-serif" font-size="13.5" fill="#a2559c" transform="rotate(-45 206.60 496.10)"><tspan x="138.60" textLength="30.44" lengthAdjust="spacingAndGlyphs">Cape</tspan> <tspan x="171.99" textLength="34.61" lengthAdjust="spacingAndGlyphs">Verde</tspan></text>
<line x1="258.40" x2="258.40" y1="472" y2="488.6" stroke="#b2b2b2" stroke-width="1"/>
<text x="229.93" y="496.1" font-family="'Liberation Sans', sans-serif" font-size="13.5" fill="#00847e" textLength="31.27" lengthAdjust="spacingAndGlyphs" transform="rotate(-45 261.20 496.10)">Israel</text>
<path d="M270.10,472 V480.5 H293.7 V488.8" fill="none" stroke="#999" stroke-width="1"/>
<text x="237.28" y="496.1" font-family="'Liberation Sans', sans-serif" font-size="13.5" font-weight="700" fill="#883039" textLength="59.22" lengthAdjust="spacingAndGlyphs" transform="rotate(-45 296.50 496.10)">Argentina</text>
<line x1="367.60" x2="367.60" y1="472" y2="488.6" stroke="#747474" stroke-width="1"/>
<text x="310.96" y="496.1" font-family="'Liberation Sans', sans-serif" font-size="13.5" font-weight="700" fill="#a2559c" textLength="59.44" lengthAdjust="spacingAndGlyphs" transform="rotate(-45 370.40 496.10)">Botswana</text>
<line x1="422.20" x2="422.20" y1="472" y2="488.6" stroke="#b2b2b2" stroke-width="1"/>
<text x="380.94" y="496.1" font-family="'Liberation Sans', sans-serif" font-size="13.5" fill="#4c6a9c" textLength="44.06" lengthAdjust="spacingAndGlyphs" transform="rotate(-45 425.00 496.10)">Albania</text>
<path d="M449.50,472 V480.5 H457.6 V488.8" fill="none" stroke="#999" stroke-width="1"/>
<text x="423.21" y="496.1" font-family="'Liberation Sans', sans-serif" font-size="13.5" font-weight="700" fill="#3d4f6e" textLength="37.19" lengthAdjust="spacingAndGlyphs" transform="rotate(-45 460.40 496.10)">World</text>
<line x1="531.40" x2="531.40" y1="472" y2="488.6" stroke="#b2b2b2" stroke-width="1"/>
<text x="483.64" y="496.1" font-family="'Liberation Sans', sans-serif" font-size="13.5" fill="#00847e" textLength="50.56" lengthAdjust="spacingAndGlyphs" transform="rotate(-45 534.20 496.10)">Lebanon</text>
<line x1="586.00" x2="586.00" y1="472" y2="488.6" stroke="#b2b2b2" stroke-width="1"/>
<text x="527.35" y="496.1" font-family="'Liberation Sans', sans-serif" font-size="13.5" fill="#a2559c" textLength="61.45" lengthAdjust="spacingAndGlyphs" transform="rotate(-45 588.80 496.10)">Cameroon</text>
<line x1="640.60" x2="640.60" y1="472" y2="488.6" stroke="#b2b2b2" stroke-width="1"/>
<text x="604.12" y="496.1" font-family="'Liberation Sans', sans-serif" font-size="13.5" fill="#a2559c" textLength="39.28" lengthAdjust="spacingAndGlyphs" transform="rotate(-45 643.40 496.10)">Gabon</text>
<line x1="695.20" x2="695.20" y1="472" y2="488.6" stroke="#b2b2b2" stroke-width="1"/>
<text x="651.11" y="496.1" font-family="'Liberation Sans', sans-serif" font-size="13.5" fill="#a2559c" textLength="46.89" lengthAdjust="spacingAndGlyphs" transform="rotate(-45 698.00 496.10)">Burundi</text>
<line x1="749.80" x2="749.80" y1="472" y2="488.6" stroke="#b2b2b2" stroke-width="1"/>
<text x="672.80" y="496.1" font-family="'Liberation Sans', sans-serif" font-size="13.5" fill="#00847e" textLength="79.80" lengthAdjust="spacingAndGlyphs" transform="rotate(-45 752.60 496.10)">Turkmenistan</text>
<path d="M800.50,472 V477.5 H788.3 V488.8" fill="none" stroke="#999" stroke-width="1"/>
<text x="756.65" y="496.1" font-family="'Liberation Sans', sans-serif" font-size="13.5" font-weight="700" fill="#00847e" textLength="34.45" lengthAdjust="spacingAndGlyphs" transform="rotate(-45 791.10 496.10)">China</text>
<path d="M808.30,472 V477.5 H824.3 V488.8" fill="none" stroke="#c4c4c4" stroke-width="1"/>
<text y="496.1" font-family="'Liberation Sans', sans-serif" font-size="13.5" fill="#00847e" transform="rotate(-45 827.10 496.10)"><tspan x="753.68" textLength="32.27" lengthAdjust="spacingAndGlyphs">Saudi</tspan> <tspan x="788.94" textLength="38.16" lengthAdjust="spacingAndGlyphs">Arabia</tspan></text>
<text y="581" font-family="'Liberation Sans', sans-serif" font-size="13" font-weight="700" fill="#858585"><tspan x="16.50" textLength="27.67" lengthAdjust="spacingAndGlyphs">Data</tspan> <tspan x="47.31" textLength="41.62" lengthAdjust="spacingAndGlyphs">source:</tspan></text>
<text y="581" font-family="'Liberation Sans', sans-serif" font-size="13" fill="#858585"><tspan x="91.50" textLength="40.59" lengthAdjust="spacingAndGlyphs">V-Dem</tspan> <tspan x="135.41" textLength="37.11" lengthAdjust="spacingAndGlyphs">(2025)</tspan></text>
<text y="581" font-family="'Liberation Sans', sans-serif" font-size="13" fill="#858585"><tspan x="600.41" textLength="183.95" lengthAdjust="spacingAndGlyphs">OurWorldinData.org/democracy</tspan> <tspan x="787.67" textLength="3.27" lengthAdjust="spacingAndGlyphs">|</tspan> <tspan x="794.25" textLength="17.20" lengthAdjust="spacingAndGlyphs">CC</tspan> <tspan x="814.77" textLength="16.23" lengthAdjust="spacingAndGlyphs">BY</tspan></text>
</svg></body></html>
